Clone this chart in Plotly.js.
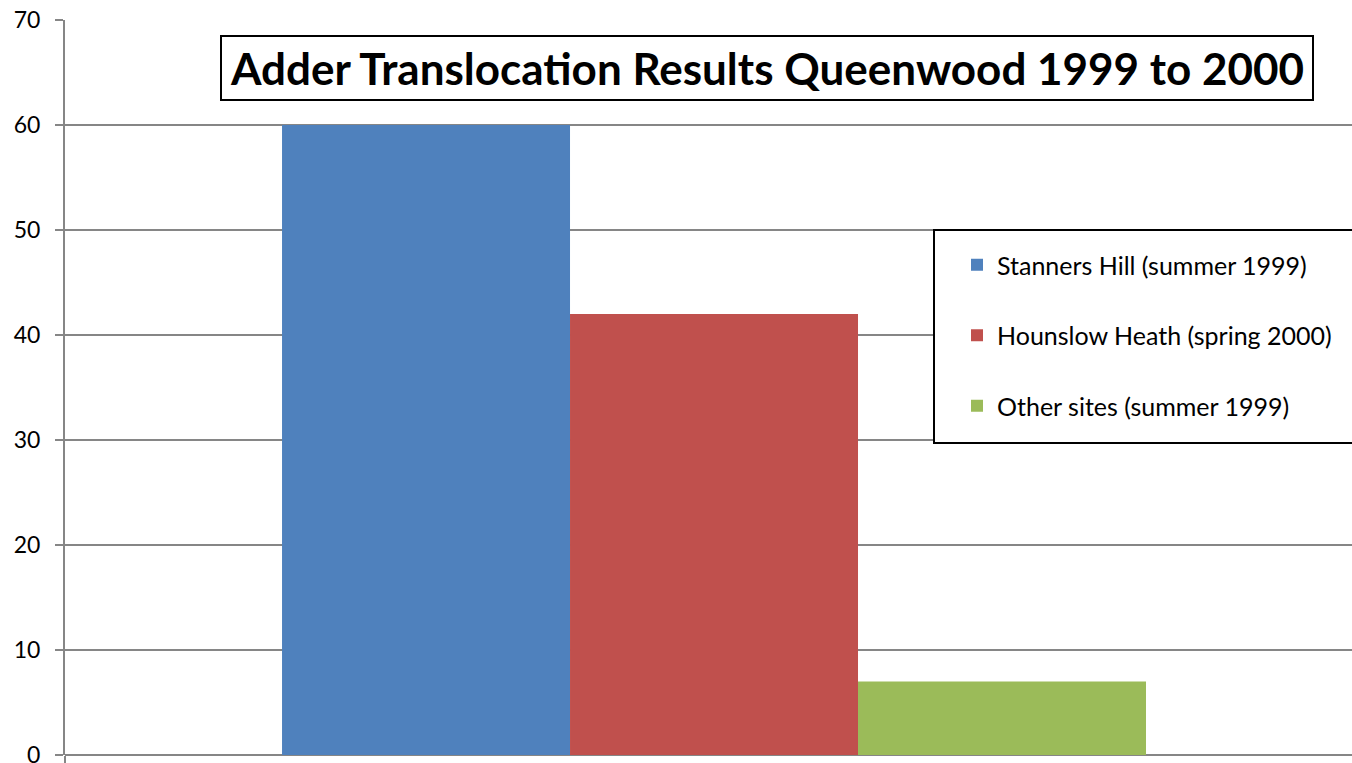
<!DOCTYPE html>
<html>
<head>
<meta charset="utf-8">
<script src="https://cdn.plot.ly/plotly-3.0.1.min.js"></script>
<style>html,body{margin:0;padding:0;overflow:hidden;background:#fff}#chart{width:1352px;height:763px}</style>
</head>
<body>
<div id="chart"></div>
<script>
const seriesNames = ["Stanners Hill (summer 1999)", "Hounslow Heath (spring 2000)", "Other sites (summer 1999)"];
const seriesValues = [60, 42, 7];
const seriesColors = ["#4F81BD", "#C0504D", "#9BBB59"];
const yTicks = [0, 10, 20, 30, 40, 50, 60, 70];
const chartTitle = "Adder Translocation Results Queenwood 1999 to 2000";

const FONT = "Lato, 'Open Sans', sans-serif";
const traces = seriesNames.map((n, i) => ({
  type: "bar",
  name: n,
  x: [0],
  y: [seriesValues[i]],
  marker: {color: seriesColors[i], line: {width: 0}},
  legendgroup: "g" + i,
  hoverinfo: "name+y"
}));

const layout = {
  width: 1352, height: 763,
  margin: {l: 65, r: 0, t: 20, b: 8, pad: 0},
  paper_bgcolor: "#ffffff", plot_bgcolor: "#ffffff",
  barmode: "group", bargap: 0.3344, bargroupgap: 0,
  font: {family: FONT, color: "#000000"},
  xaxis: {
    type: "linear", range: [-0.5, 0.4915], showgrid: false, zeroline: false,
    showline: false, tickmode: "array", tickvals: [-0.5], ticktext: [""],
    ticks: "outside", ticklen: 8, tickwidth: 2, tickcolor: "#868686", fixedrange: true
  },
  yaxis: {
    range: [0, 70], tickmode: "array", tickvals: yTicks, ticktext: yTicks.map(String),
    showgrid: true, gridcolor: "#868686", gridwidth: 1.3,
    zeroline: true, zerolinecolor: "#868686", zerolinewidth: 2.5,
    showline: true, linecolor: "#868686", linewidth: 2,
    ticks: "outside", ticklen: 8, tickwidth: 1.5, tickcolor: "#868686",
    ticklabelstandoff: 10, ticklabeloverflow: "allow",
    tickfont: {family: FONT, size: 23, color: "#000000"}, fixedrange: true
  },
  showlegend: true,
  legend: {
    x: (934 - 65 + 23) / 1287, y: (755 - 242) / 735, xanchor: "left", yanchor: "top",
    bgcolor: "rgba(0,0,0,0)", borderwidth: 0, traceorder: "grouped", tracegroupgap: 35,
    font: {family: FONT, size: 25, color: "#000000"}
  },
  shapes: [{
    type: "rect", xref: "paper", yref: "paper", layer: "above",
    x0: (934 - 65) / 1287, x1: 1.1, y0: (755 - 443) / 735, y1: (755 - 230) / 735,
    line: {color: "#000000", width: 2}, fillcolor: "#ffffff"
  }],
  annotations: [{
    text: "<b>" + chartTitle + "</b>", xref: "paper", yref: "paper",
    x: (767 - 65) / 1287, y: (755 - 68) / 735, xanchor: "center", yanchor: "middle",
    showarrow: false, width: 1090, height: 62, borderpad: 0, borderwidth: 2,
    bordercolor: "#000000", bgcolor: "#ffffff",
    font: {family: FONT, size: 44, color: "#000000"}
  }]
};

Plotly.newPlot("chart", traces, layout, {displayModeBar: false, staticPlot: true});
</script>
</body>
</html>
